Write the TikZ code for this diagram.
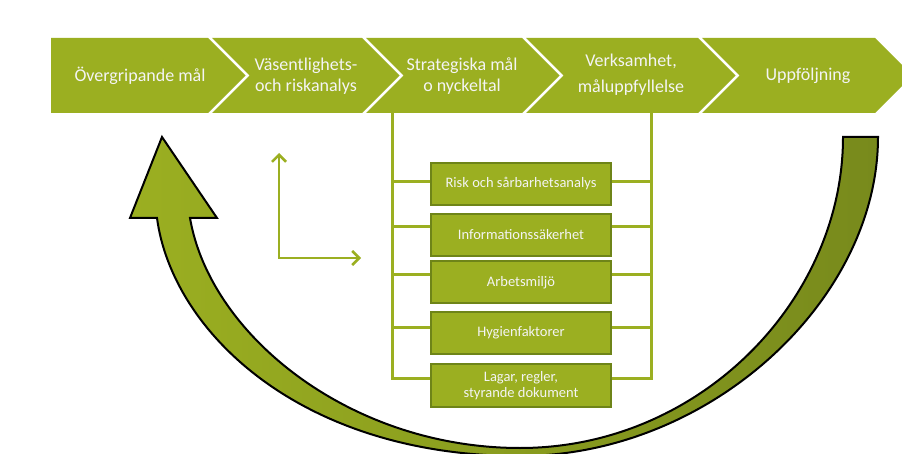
\documentclass[tikz,border=0pt]{standalone}
\usepackage{fontspec}
\setmainfont{Carlito}
\usetikzlibrary{arrows.meta}
\definecolor{cgreen}{HTML}{9BAF21}
\definecolor{cdark}{HTML}{788A1C}
\definecolor{cborder}{HTML}{6E8418}
\definecolor{ctext}{HTML}{F4F4F4}
\begin{document}
\begin{tikzpicture}[x=1pt,y=-1pt,
  chev/.style={fill=cgreen},
  ctxt/.style={text=ctext, font=\fontsize{18}{21}\selectfont, align=center, inner sep=0pt},
  subbox/.style={fill=cgreen, draw=cborder, line width=2pt, minimum width=180pt,
     minimum height=42pt, inner sep=0pt, text=ctext,
     font=\fontsize{14.5}{16}\selectfont, align=center},
  bracket/.style={draw=cgreen, line width=3pt, line join=miter},
  larrow/.style={draw=cgreen, line width=2.5pt, line join=miter,
     {Straight Barb[length=7pt,width=14pt]}-{Straight Barb[length=7pt,width=14pt]}},
  bigarrow/.style={draw=black, line width=2pt, line join=miter,
     left color=cgreen, middle color=cgreen, right color=cdark}]
\useasboundingbox (0,0) rectangle (902,454);
\begin{scope}
\clip (0,0) rectangle (902,454);
% chevrons
\fill[chev] (51,38) -- (208,38) -- (245.5,75.5) -- (208,113) -- (51,113) -- cycle;
\fill[chev] (212,38) -- (362,38) -- (399.5,75.5) -- (362,113) -- (212,113) -- (249.5,75.5) -- cycle;
\fill[chev] (366,38) -- (522,38) -- (559.5,75.5) -- (522,113) -- (366,113) -- (403.5,75.5) -- cycle;
\fill[chev] (526,38) -- (698,38) -- (735.5,75.5) -- (698,113) -- (526,113) -- (563.5,75.5) -- cycle;
\fill[chev] (702,38) -- (875,38) -- (912.5,75.5) -- (875,113) -- (702,113) -- (739.5,75.5) -- cycle;
% big curved arrow
\shadedraw[bigarrow] (878,137) .. controls (878,300) and (710,456) .. (520,456)
  .. controls (300,456) and (172,331) .. (157,218) -- (130,218) -- (162,137) -- (217,218) -- (190,218)
  .. controls (210,335) and (350,448) .. (520,448)
  .. controls (700,448) and (843,300) .. (843,137) -- cycle;
\end{scope}
% chevron texts
\node[ctxt] (t1) at (140,76) {Övergripande mål};
\node[ctxt] (t2) at (306,76) {Väsentlighets-\\och riskanalys};
\node[ctxt] (t3) at (462,76) {Strategiska mål\\o nyckeltal};
\node[ctxt] (t4) at (631,75) {Verksamhet,\\[5pt]måluppfyllelse};
\node[ctxt] (t5) at (808,76) {Uppföljning};
% bracket coordinates
\coordinate (lt) at (392,113);
\coordinate (rt) at (651,113);
\coordinate (l1) at (392,182);
\coordinate (l2) at (392,227);
\coordinate (l3) at (392,275);
\coordinate (l4) at (392,327);
\coordinate (l5) at (392,378);
\coordinate (r1) at (651,182);
\coordinate (r2) at (651,227);
\coordinate (r3) at (651,275);
\coordinate (r4) at (651,327);
\coordinate (r5) at (651,378);
% boxes (placed first as nodes, drawn later)
\path (521,184) node[subbox] (b1) {Risk och sårbarhetsanalys};
\path (521,235) node[subbox] (b2) {Informationssäkerhet};
\path (521,282.5) node[subbox] (b3) {Arbetsmiljö};
\path (521,333) node[subbox] (b4) {Hygienfaktorer};
\path (521,385.5) node[subbox, minimum height=43pt] (b5) {Lagar, regler,\\styrande dokument};
% bracket lines
\draw[bracket] (lt) -- (l5) -- (l5 -| b5.west);
\draw[bracket] (rt) -- (r5) -- (r5 -| b5.east);
\foreach \i in {1,2,3,4}{
  \draw[bracket] (l\i) -- (l\i -| b\i.west);
  \draw[bracket] (r\i) -- (r\i -| b\i.east);
}
% redraw boxes on top
\node[subbox] at (b1) {Risk och sårbarhetsanalys};
\node[subbox] at (b2) {Informationssäkerhet};
\node[subbox] at (b3) {Arbetsmiljö};
\node[subbox] at (b4) {Hygienfaktorer};
\node[subbox, minimum height=43pt] at (b5) {Lagar, regler,\\styrande dokument};
% L arrow
\coordinate (lup) at (279,153);
\coordinate (lc) at (279,258);
\coordinate (lrt) at (361,258);
\draw[larrow] (lup) -- (lc) -- (lrt);
\end{tikzpicture}
\end{document}
